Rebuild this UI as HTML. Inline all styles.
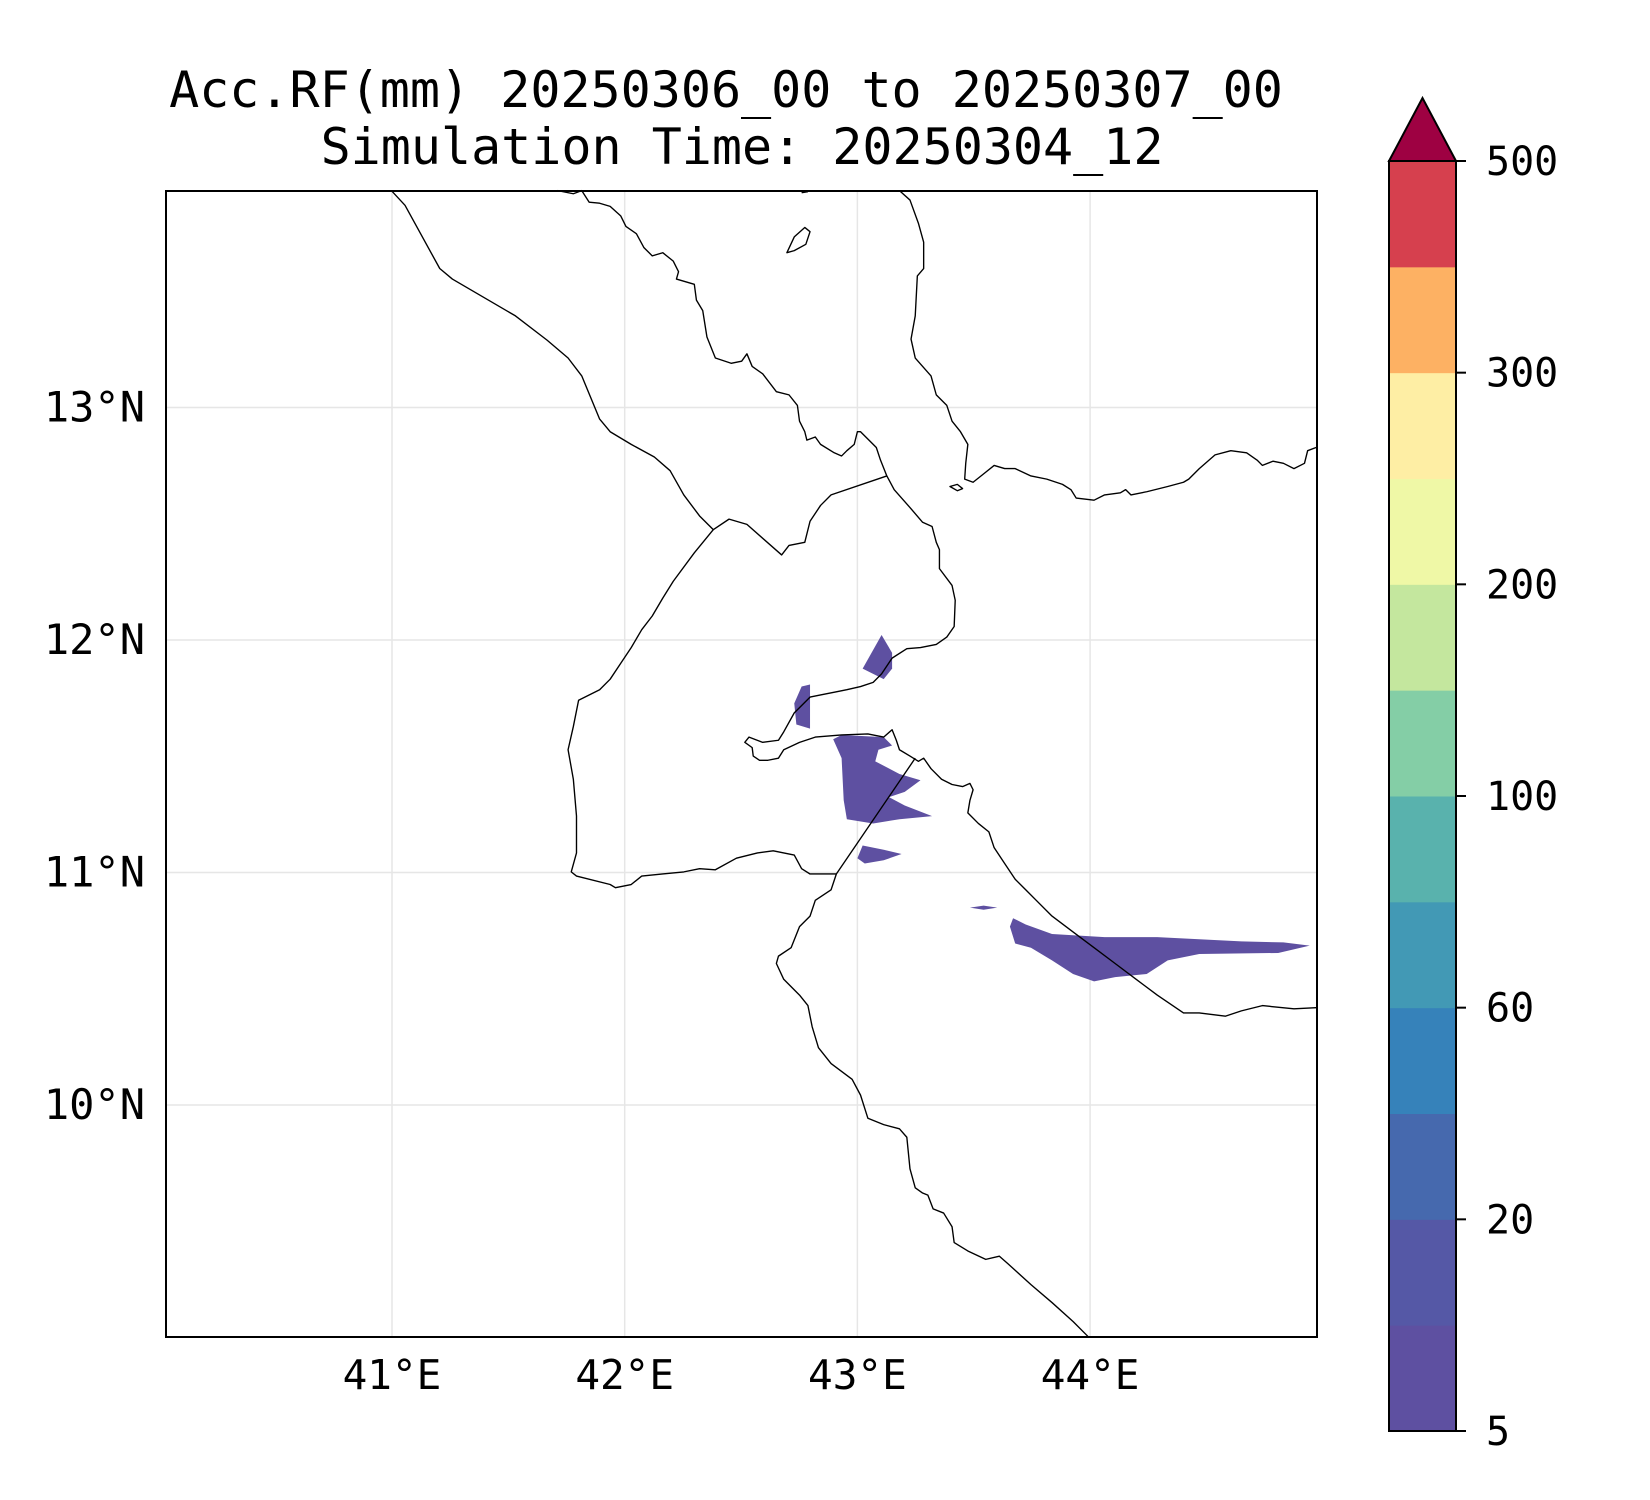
<!DOCTYPE html>
<html><head><meta charset="utf-8"><style>
html,body{margin:0;padding:0;background:#fff;}
svg{display:block;}
text{font-family:"DejaVu Sans Mono","Liberation Mono",monospace;fill:#000;}
</style></head><body>
<svg id="chart" width="1650" height="1500" viewBox="0 0 1650 1500" xmlns="http://www.w3.org/2000/svg">
<text x="726" y="107" font-size="50" text-anchor="middle">Acc.RF(mm) 20250306_00 to 20250307_00</text>
<text x="742" y="164" font-size="50" text-anchor="middle">Simulation Time: 20250304_12</text>
<g id="grid"></g>
<g transform="scale(1.052,1.053)">
 <g fill="#5e50a1" stroke="none">
  <path d="M820,635 L838,603 L848,620 L848,635 L840,645 Z"/>
  <path d="M755,668 L762,652 L770,650 L770,692 L757,688 Z"/>
  <path d="M792,702 L800,698 L840,700 L848,708 L835,712 L832,723 L855,735 L875,741 L860,752 L845,757 L860,765 L886,775 L855,778 L830,782 L805,778 L802,760 L800,720 Z"/>
  <path d="M815,815 L820,803 L840,807 L857,811 L840,817 L822,820 Z"/>
  <path d="M922,862 L935,860 L948,862 L935,864 Z"/>
  <path d="M963,872 L975,878 L1000,887 L1050,890 L1100,890 L1180,894 L1220,895 L1245,898 L1215,905 L1140,906 L1110,912 L1090,925 L1060,928 L1040,932 L1020,925 L1000,912 L980,900 L965,896 L960,880 Z"/>
 </g>
 <g fill="none" stroke="#000" stroke-width="1.3" stroke-linejoin="round">
  <path d="M372,181 L385,195 L418,255 L430,265 L490,300 L520,323 L540,340 L553,357 L570,398 L580,410 L600,422 L622,434 L637,447 L650,470 L665,490 L678,503 L693,493 L710,498 L743,527 L750,518 L765,515 L770,495 L780,480 L790,470 L843,452"/>
  <path d="M530,181 L545,184 L553,181 L560,192 L570,193 L580,196 L590,205 L595,215 L605,222 L612,235 L620,243 L630,240 L640,248 L645,258 L643,265 L660,270 L662,285 L668,295 L672,320 L680,340 L695,345 L705,343 L710,336 L715,348 L725,355 L738,372 L750,375 L758,385 L760,400 L765,410 L767,418 L775,415 L780,422 L793,430 L800,433 L805,428 L812,422 L815,410 L818,410 L826,418 L833,425 L837,437 L843,452 L850,465 L865,482 L877,496 L886,500 L890,515 L893,522 L893,540 L905,556 L908,570 L907,595 L900,605 L890,612 L875,615 L862,616 L848,625 L838,640 L830,648 L818,652 L805,655 L795,657 L780,660 L770,662 L755,677 L745,695 L740,703 L725,705 L712,700 L708,705 L715,710 L716,718 L722,722 L730,722 L740,720 L745,712 L760,705 L775,700 L800,698 L825,697 L840,700 L848,693 L852,703 L855,712 L865,718 L873,723 L878,720 L885,730 L895,740 L905,745 L915,747 L922,744 L925,750 L922,760 L920,772 L930,782 L940,790 L945,805 L955,820 L965,835 L975,845 L985,855 L1000,870 L1020,885 L1040,900 L1060,915 L1080,930 L1100,945 L1125,962 L1140,962 L1165,965 L1180,960 L1200,955 L1230,958 L1251,957"/>
  <path d="M678,503 L660,525 L640,552 L630,568 L620,585 L610,598 L600,615 L590,630 L580,645 L570,655 L560,660 L550,665 L545,690 L540,712 L545,740 L548,775 L548,810 L543,828 L548,832 L580,840 L585,843 L600,840 L610,832 L630,830 L650,828 L665,825 L680,826 L700,815 L720,810 L735,808 L755,812 L762,825 L770,830 L795,830"/>
  <path d="M870,720 L795,830 L790,845 L775,855 L770,870 L760,880 L752,900 L740,908 L738,915 L745,930 L760,945 L768,955 L772,975 L778,995 L790,1010 L810,1025 L818,1040 L825,1062 L840,1068 L855,1072 L862,1080 L865,1110 L870,1128 L877,1133 L882,1135 L887,1148 L897,1152 L905,1165 L907,1180 L920,1188 L937,1196 L950,1193 L958,1200 L980,1220 L1000,1237 L1020,1255 L1035,1270"/>
  <path d="M855,181 L865,190 L873,212 L878,230 L878,255 L872,262 L870,300 L866,322 L870,340 L885,357 L890,375 L900,385 L905,400 L913,410 L920,422 L918,440 L917,455 L925,458 L935,450 L945,442 L955,445 L965,445 L980,452 L995,455 L1010,460 L1018,465 L1023,473 L1040,475 L1050,470 L1065,468 L1070,465 L1075,470 L1090,467 L1110,462 L1125,458 L1130,455 L1140,445 L1155,432 L1170,428 L1185,430 L1195,437 L1200,442 L1210,438 L1220,440 L1230,445 L1240,440 L1243,428 L1251,425"/>
  <path d="M748,240 L755,225 L765,216 L770,220 L766,232 L755,238 Z"/>
  <path d="M903,462 L910,460 L915,464 L910,466 Z"/>
  <path d="M762,183 L768,182"/>
 </g>
</g>
<rect x="166" y="191" width="1151" height="1146" fill="none" stroke="#000" stroke-width="2"/>
<g id="xticks"></g>
<g id="yticks"></g>
<g id="cbar"></g>
</svg>
<script>
const lonTicks = [41, 42, 43, 44];
const latTicks = [10, 11, 12, 13];
const cbLevels = [5, 10, 20, 40, 60, 80, 100, 150, 200, 250, 300, 400, 500];
const cbColors = ["#5e50a1","#5558a6","#4669ae","#3682ba","#4299b5","#59b2ad","#84cea6","#c4e79e","#eff8a6","#feeea4","#fdb163","#d6404e"];
const cbTickLabels = ["5","20","60","100","200","300","500"];
const cbExtendColor = "#9e0142";

const NS = "http://www.w3.org/2000/svg";
const X0 = 166, X1 = 1317, Y0 = 191, Y1 = 1337;
function xOf(lon){ return 392 + (lon - 41) * 232.7; }
function yOf(lat){ return 1105 - (lat - 10) * 232.5; }
function mk(tag, attrs, parent){ const e = document.createElementNS(NS, tag); for (const k in attrs) e.setAttribute(k, attrs[k]); parent.appendChild(e); return e; }

const grid = document.getElementById('grid');
const xt = document.getElementById('xticks');
const yt = document.getElementById('yticks');
lonTicks.forEach(v => {
  const x = xOf(v);
  const l = mk('line', {x1:x, x2:x, y1:Y0, y2:Y1, stroke:'#e6e6e6', 'stroke-width':1.5}, grid);
  
  
  const t = mk('text', {x:x, y:1389, 'font-size':41, 'text-anchor':'middle'}, xt);
  t.textContent = v + '°E';
  
  
});
latTicks.forEach(v => {
  const y = yOf(v);
  const l = mk('line', {x1:X0, x2:X1, y1:y, y2:y, stroke:'#e6e6e6', 'stroke-width':1.5}, grid);
  
  
  const t = mk('text', {x:145, y:y + 14, 'font-size':42, 'text-anchor':'end'}, yt);
  t.textContent = v + '°N';
  
  
});

// colorbar
const cb = document.getElementById('cbar');
const CX0 = 1389, CX1 = 1456, CY0 = 161, CY1 = 1431;
const nb = cbLevels.length - 1;
const bh = (CY1 - CY0) / nb;
function cbY(i){ return CY1 - i * bh; }
for (let i = 0; i < nb; i++) {
  const r = mk('rect', {x:CX0, y:cbY(i+1), width:CX1-CX0, height:bh+0.5, fill:cbColors[i]}, cb);
  
  
}
const tri = mk('path', {d:`M${CX0},${CY0} L${(CX0+CX1)/2},98 L${CX1},${CY0} Z`, fill:cbExtendColor, stroke:'#000', 'stroke-width':2}, cb);


const fr = mk('rect', {x:CX0, y:CY0, width:CX1-CX0, height:CY1-CY0, fill:'none', stroke:'#000', 'stroke-width':2}, cb);


cbTickLabels.forEach(s => {
  const i = cbLevels.indexOf(Number(s));
  const y = cbY(i);
  const tk = mk('line', {x1:CX1, x2:CX1+10, y1:y, y2:y, stroke:'#000', 'stroke-width':2}, cb);
  
  
  const t = mk('text', {x:1486, y:y + 14, 'font-size':40}, cb);
  t.textContent = s;
  
  
});
</script>
</body></html>
